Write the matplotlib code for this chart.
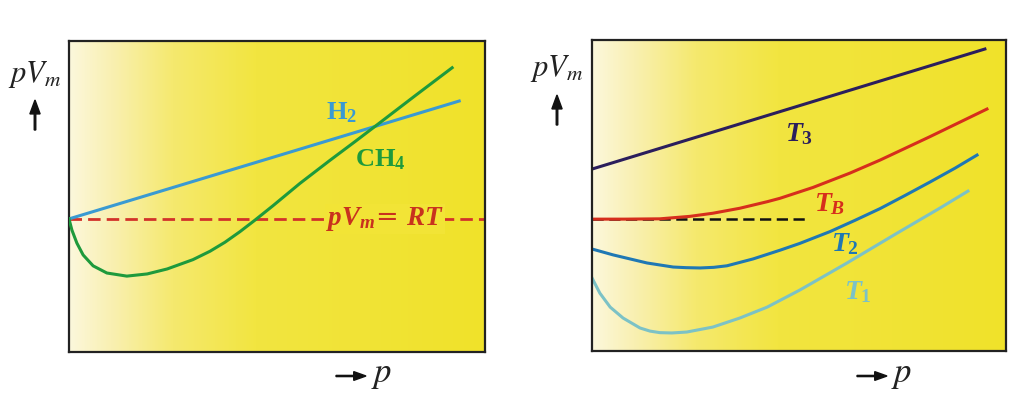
import numpy as np
import matplotlib
matplotlib.use("Agg")
import matplotlib.pyplot as plt
from matplotlib.colors import LinearSegmentedColormap
from matplotlib.patches import FancyArrow

# bold-italic Times-like math for curve labels
plt.rcParams["mathtext.fontset"] = "custom"
plt.rcParams["mathtext.it"] = "Liberation Serif:italic:bold"
plt.rcParams["mathtext.rm"] = "Liberation Serif:bold"
plt.rcParams["mathtext.bf"] = "Liberation Serif:bold"

# left panel: real gases vs ideal (x = p, y = pVm), arbitrary units 0..100
rt_level = 42.8
h2_p = [0.0, 93.8]
h2_pv = [42.8, 80.7]
ch4_p = [0.0, 0.7, 1.9, 3.4, 5.8, 9.1, 13.9, 18.8, 23.6, 29.8, 33.9, 37.5,
         41.1, 44.7, 49.0, 55.5, 62.7, 68.8, 74.8, 83.2, 92.1]
ch4_pv = [42.8, 39.2, 35.0, 31.2, 27.7, 25.4, 24.4, 25.1, 26.7, 29.7, 32.4,
          35.3, 38.7, 42.4, 47.0, 54.2, 61.6, 67.7, 73.8, 82.4, 91.4]

# right panel: one gas at several temperatures
t3_p = [0.0, 94.9]
t3_pv = [58.5, 97.1]
tb_p = [0.0, 8.0, 16.4, 23.7, 29.2, 35.7, 42.3, 45.4, 53.4, 62.3, 69.6,
        81.6, 95.4]
tb_pv = [42.4, 42.4, 42.5, 43.3, 44.3, 45.9, 48.0, 49.1, 52.6, 57.2, 61.4,
         68.9, 77.8]
boyle_end = 51.4
t2_p = [0.0, 5.1, 13.3, 19.6, 22.7, 26.1, 29.4, 32.6, 38.9, 45.4, 50.2,
        57.5, 63.5, 69.6, 75.6, 81.6, 87.7, 93.0]
t2_pv = [32.8, 30.9, 28.3, 27.0, 26.8, 26.7, 26.9, 27.4, 29.6, 32.4, 34.6,
         38.4, 42.0, 45.8, 50.0, 54.3, 58.8, 63.0]
t1_p = [0.0, 1.9, 4.4, 7.5, 11.6, 14.0, 16.4, 19.3, 22.9, 29.2, 35.7, 42.3,
        50.2, 61.6, 73.7, 84.1, 90.8]
t1_pv = [23.5, 18.6, 14.1, 10.6, 7.4, 6.4, 5.9, 5.8, 6.1, 7.7, 10.6, 14.1,
         19.6, 28.3, 37.9, 46.0, 51.4]

bg = LinearSegmentedColormap.from_list(
    "bg", [(0.0, "#fcf8dc"), (0.1, "#f9f0b2"), (0.25, "#f5e96e"),
           (0.45, "#f2e540"), (1.0, "#f0e22a")])


def setup(ax):
    grad = np.linspace(0, 1, 256)[None, :]
    ax.imshow(grad, cmap=bg, extent=[0, 100, 0, 100], aspect="auto", zorder=0)
    ax.set_xlim(0, 100)
    ax.set_ylim(0, 100)
    ax.set_xticks([])
    ax.set_yticks([])
    for s in ax.spines.values():
        s.set_linewidth(1.6)
        s.set_color("#222222")


fig = plt.figure(figsize=(10.23, 3.98), dpi=100)
ax1 = fig.add_axes([69 / 1023, 1 - 352 / 398, 416 / 1023, 311 / 398])
ax2 = fig.add_axes([592 / 1023, 1 - 351 / 398, 414 / 1023, 311 / 398])
setup(ax1)
setup(ax2)

# left
ax1.axhline(rt_level, color="#d2322a", lw=2.0, ls=(0, (4.5, 2.2)), zorder=2)
ax1.plot(h2_p, h2_pv, color="#3a9ad2", lw=2.2, zorder=3)
ax1.plot(ch4_p, ch4_pv, color="#1e9a3c", lw=2.2, zorder=3,
         solid_joinstyle="round")
ax1.text(65.4, 76.8, r"H$_\mathrm{2}$", color="#3a9ad2", fontsize=19,
         family="Liberation Serif", weight="bold", ha="center", va="center")
ax1.text(74.8, 61.7, r"CH$_\mathrm{4}$", color="#1e9a3c", fontsize=19,
         family="Liberation Serif", weight="bold", ha="center", va="center")
ax1.text(76.0, rt_level, r"$pV_m$= $RT$", color="#c8321e", fontsize=19.5,
         ha="center", va="center", zorder=4,
         bbox=dict(facecolor="#f2e436", edgecolor="none", pad=1.0))

# right
ax2.plot(t3_p, t3_pv, color="#2b1e5c", lw=2.2)
ax2.plot([0, boyle_end], [tb_pv[0], tb_pv[0]], color="#111111", lw=1.8,
         ls=(0, (4.5, 2.2)))
ax2.plot(tb_p, tb_pv, color="#d62e1c", lw=2.2, solid_joinstyle="round")
ax2.plot(t2_p, t2_pv, color="#1f78b4", lw=2.2, solid_joinstyle="round")
ax2.plot(t1_p, t1_pv, color="#7cc2c6", lw=2.2, solid_joinstyle="round")
for x, y, s, c in [(50.0, 70.1, r"$T_\mathrm{3}$", "#2b1e5c"),
                   (57.5, 47.6, r"$T_B$", "#d62e1c"),
                   (61.1, 34.7, r"$T_\mathrm{2}$", "#1f78b4"),
                   (64.3, 19.3, r"$T_\mathrm{1}$", "#7cc2c6")]:
    ax2.text(x, y, s, color=c, fontsize=20, ha="center", va="center")

# axis captions with arrows
for lx, ly, ay in [(35, 75, 130), (557, 68, 125)]:
    fig.text(lx / 1023, 1 - ly / 398, r"$pV_m$", fontsize=22, ha="center",
             va="center", math_fontfamily="stix", color="#222222")
    fig.add_artist(FancyArrow(
        lx / 1023, 1 - ay / 398, 0, 30 / 398,
        width=0.0015, head_width=0.010, head_length=0.035,
        transform=fig.transFigure, color="#111111", length_includes_head=True))

for ax0, px in [(336, 378), (857, 898)]:
    fig.add_artist(FancyArrow(
        ax0 / 1023, 1 - 376 / 398, 30 / 1023, 0,
        width=0.003, head_width=0.022, head_length=0.012,
        transform=fig.transFigure, color="#111111", length_includes_head=True))
    fig.text((px + 4) / 1023, 1 - 374 / 398, r"$p$", fontsize=25,
             ha="center", va="center", math_fontfamily="stix", color="#222222")

fig.savefig("out.png", dpi=100)
